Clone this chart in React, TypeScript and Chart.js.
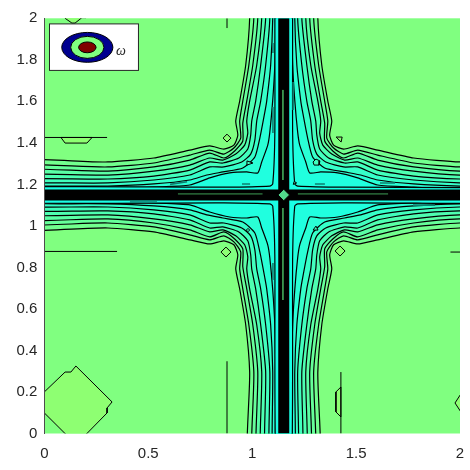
import React, { useEffect, useRef } from "react";
import { Chart, registerables } from "chart.js";

Chart.register(...registerables);

const xTicks = [0, 0.5, 1, 1.5, 2];
const yTicks = [0, 0.2, 0.4, 0.6, 0.8, 1, 1.2, 1.4, 1.6, 1.8, 2];
const centre = [1.152, 1.149];

// Contour levels, as [offset along x, offset along y] from the centre of the cross.
const level1 = [[1.44,.154],[.846,.159],[.625,.178],[.452,.216],[.356,.236],[.288,.221],[.24,.24],[.221,.288],[.231,.356],[.212,.452],[.183,.625],[.164,.851],[.159,1.44]];
const level2 = [[1.44,.13],[.846,.135],[.625,.154],[.452,.192],[.356,.216],[.288,.197],[.24,.226],[.207,.274],[.212,.356],[.197,.452],[.168,.625],[.144,.851],[.139,1.44]];
const level3 = [[1.44,.111],[.846,.115],[.625,.135],[.452,.168],[.356,.202],[.288,.178],[.236,.212],[.197,.26],[.197,.346],[.178,.452],[.149,.625],[.125,.851],[.12,1.44]];
const level4 = [[1.44,.087],[.846,.096],[.625,.115],[.452,.144],[.356,.178],[.293,.168],[.231,.197],[.188,.24],[.173,.298],[.178,.356],[.164,.452],[.13,.625],[.106,.851],[.101,1.44]];
const level5 = [[1.44,.067],[.846,.077],[.625,.091],[.452,.12],[.356,.159],[.293,.154],[.216,.178],[.173,.221],[.159,.288],[.154,.356],[.135,.452],[.111,.625],[.087,.851],[.082,1.44]];
const level6 = [[1.44,.048],[.846,.058],[.625,.072],[.452,.096],[.356,.135],[.288,.135],[.202,.159],[.159,.197],[.139,.264],[.13,.356],[.111,.452],[.087,.625],[.067,.851],[.063,1.44]];
const level7 = [[1.44,.034],[.846,.043],[.625,.053],[.452,.072],[.37,.096],[.293,.111],[.197,.13],[.139,.183],[.115,.274],[.091,.399],[.082,.452],[.063,.625],[.053,.851],[.048,1.44]];
const level8 = [[1.44,.024],[.846,.029],[.625,.038],[.452,.048],[.356,.082],[.26,.106],[.178,.111],[.125,.106],[.106,.159],[.077,.24],[.067,.303],[.053,.457],[.043,.625],[.038,.851],[.034,1.44]];
const level9 = [[1.44,.034],[.288,.038],[.067,.043],[.053,.053],[.043,.288],[.034,1.44]];
const levels = [level1, level2, level3, level4, level5, level6, level7, level8, level9];
const levelColours = ["#72ff8e", "#66ff99", "#5affa5", "#4effb1", "#42ffbd", "#36ffc9", "#2affd5", "#20ffdf", "#1affe5"];

const dashSegments = [
  [[.951,1.202],[.99,1.202]], [[1.302,1.202],[1.35,1.202]], [[.605,1.2],[.687,1.213]], [[.412,1.115],[.542,1.115]],
  [[1.615,1.207],[1.687,1.207]], [[1.774,1.1],[1.88,1.1]], [[1.1,1.881],[1.1,1.833]], [[1.1,1.573],[1.1,1.447]],
  [[1.197,1.693],[1.197,1.558]], [[1.1,.821],[1.1,.739]],
];
const slitSegments = [
  [[.643,1.154],[1.05,1.154]], [[1.22,1.154],[1.654,1.154]], [[1.148,1.655],[1.148,1.221]], [[1.148,1.086],[1.148,.643]],
];
const openLines = [
  [[0,1.426],[.302,1.426]], [[0,.877],[.35,.877]], [[1.954,.874],[2,.874]],
  [[.879,0],[.879,.348]], [[.879,1.953],[.879,2]], [[1.427,0],[1.427,.296]],
];
const islandsLight = [
  [[-.05,.152],[.1,.296],[.128,.296],[.152,.325],[.326,.152],[.302,.123],[.302,.099],[.205,0],[.255,-.05],[.15,-.05],[-.05,.149]],
  [[.077,2.023],[.1,2],[.133,1.977],[.148,1.977],[.181,2.003],[.2,2.003],[.25,2.05],[.05,2.05]],
  [[.08,1.426],[.1,1.399],[.205,1.399],[.23,1.426]],
  [[1.427,.224],[1.403,.2],[1.403,.104],[1.427,.08]],
  [[2.02,.215],[1.976,.147],[2.02,.08]],
];
const islandsMid = [
  [[.86,1.423],[.879,1.442],[.898,1.423],[.879,1.404]],
  [[.85,.874],[.874,.898],[.898,.874],[.874,.85]],
  [[1.399,.879],[1.423,.903],[1.447,.879],[1.423,.855]],
  [[1.404,1.428],[1.433,1.428],[1.428,1.404]],
];
const islandsTeal = [
  [[.975,1.313],[1.004,1.303],[.975,1.293]],
  [[1.293,1.308],[1.307,1.322],[1.326,1.313],[1.322,1.293],[1.298,1.293]],
  [[1.307,.999],[1.293,.98],[1.317,.98]],
  [[.972,.98],[.98,.988],[.988,.98],[.98,.972]],
  [[1.198,1.2],[1.214,1.207],[1.202,1.214]],
];
const centreDiamonds = [[.028, "#52d98c"], [.013, "#80ff80"]];

const inset = { x: [.025, .453], y: [1.749, 1.973], cx: .207, cy: 1.86 };
const insetRings = [[.123, .072, "#00008f"], [.08, .053, "#80ff80"], [.042, .026, "#800000"]];
const insetLabel = "ω";

const xy = (p) => ({ x: p[0], y: p[1] });
const base = { pointRadius: 0, pointHoverRadius: 0, clip: 0, showLine: true };
const polygon = (pts, fill, borderWidth = 1, tension = 0) => ({
  ...base, data: [...pts, pts[0]].map(xy), borderColor: "#000", borderWidth, backgroundColor: fill, fill: "shape", tension,
});
const open = (pts, colour, borderWidth) => ({
  ...base, data: pts.map(xy), borderColor: colour, borderWidth, backgroundColor: "transparent", fill: false, tension: 0,
});
const loopOf = (c) => {
  const [cx, cy] = centre;
  const q = (sx, sy) => c.map(([dx, dy]) => [cx + sx * dx, cy + sy * dy]);
  return [...q(1, 1), ...q(-1, 1).reverse(), ...q(-1, -1), ...q(1, -1).reverse()];
};

const paperPlugin = {
  id: "paper",
  beforeDatasetsDraw(chart) {
    const { ctx, chartArea: a } = chart;
    ctx.save();
    ctx.fillStyle = "#80ff80";
    ctx.fillRect(a.left, a.top, a.width, a.height);
    ctx.restore();
  },
  afterDatasetsDraw(chart) {
    const { ctx, scales } = chart;
    const X = scales.x, Y = scales.y;
    const l = X.getPixelForValue(inset.x[0]), r = X.getPixelForValue(inset.x[1]);
    const t = Y.getPixelForValue(inset.y[1]), b = Y.getPixelForValue(inset.y[0]);
    ctx.save();
    ctx.fillStyle = "#fff";
    ctx.strokeStyle = "#262626";
    ctx.lineWidth = 1;
    ctx.fillRect(l, t, r - l, b - t);
    ctx.strokeRect(l, t, r - l, b - t);
    const px = X.getPixelForValue(inset.cx), py = Y.getPixelForValue(inset.cy);
    for (const [rx, ry, colour] of insetRings) {
      ctx.beginPath();
      ctx.ellipse(px, py, X.getPixelForValue(rx) - X.getPixelForValue(0), Y.getPixelForValue(0) - Y.getPixelForValue(ry), 0, 0, Math.PI * 2);
      ctx.fillStyle = colour;
      ctx.fill();
      ctx.strokeStyle = "#000";
      ctx.stroke();
    }
    ctx.fillStyle = "#262626";
    ctx.font = "italic 14px 'Liberation Serif'";
    ctx.textAlign = "left";
    ctx.textBaseline = "middle";
    ctx.fillText(insetLabel, X.getPixelForValue(.345), Y.getPixelForValue(1.843));
    ctx.restore();
  },
};

export default function App() {
  const ref = useRef(null);
  useEffect(() => {
    document.body.style.margin = "0";
    const [cx, cy] = centre;
    const datasets = [
      ...centreDiamonds.map(([r, colour]) => polygon([[cx - r, cy], [cx, cy + r], [cx + r, cy], [cx, cy - r]], colour)),
      ...slitSegments.map((s) => open(s, "#3f9f55", 1)),
      open([[0, cy], [2, cy]], "#000", 11),
      open([[cx, 0], [cx, 2]], "#000", 11),
      ...dashSegments.map((s) => open(s, "#0b7f6f", 1.6)),
      ...islandsTeal.map((p) => polygon(p, "#42ffbd")),
      ...islandsMid.map((p) => polygon(p, "#8cff74")),
      ...openLines.map((s) => open(s, "#000", 1)),
      ...islandsLight.map((p) => polygon(p, "#8eff72")),
      ...levels.map((c, i) => polygon(loopOf(c), levelColours[i], 1.2, 0.2)).reverse(),
    ];
    const font = { family: "'Liberation Sans'", size: 15 };
    const chart = new Chart(ref.current, {
      type: "scatter",
      data: { datasets },
      plugins: [paperPlugin],
      options: {
        animation: false,
        responsive: false,
        events: [],
        layout: { padding: { top: 18.3, right: 10, left: 0, bottom: 0 } },
        plugins: { legend: { display: false }, tooltip: { enabled: false }, title: { display: false } },
        scales: {
          x: {
            type: "linear", min: 0, max: 2,
            afterFit: (s) => { s.height = 36.5; s.paddingLeft = 0; s.paddingRight = 0; },
            afterBuildTicks: (s) => { s.ticks = xTicks.map((value) => ({ value })); },
            grid: { display: false, drawTicks: false },
            border: { display: false },
            ticks: { color: "#262626", font, padding: 11, maxRotation: 0, autoSkip: false, callback: (v) => String(v) },
          },
          y: {
            type: "linear", min: 0, max: 2,
            afterFit: (s) => { s.width = 44.3; s.paddingTop = 0; s.paddingBottom = 0; },
            afterBuildTicks: (s) => { s.ticks = yTicks.map((value) => ({ value })); },
            grid: { display: false, drawTicks: false },
            border: { display: true, color: "#4d4d4d", width: 1, z: 2 },
            ticks: { color: "#262626", font, padding: 7, autoSkip: false, callback: (v) => String(Math.round(v * 10) / 10) },
          },
        },
      },
    });
    return () => chart.destroy();
  }, []);
  return (
    <div style={{ position: "absolute", left: 0, top: 0, width: 470, height: 470 }}>
      <canvas ref={ref} width={470} height={470} style={{ display: "block" }} />
    </div>
  );
}
